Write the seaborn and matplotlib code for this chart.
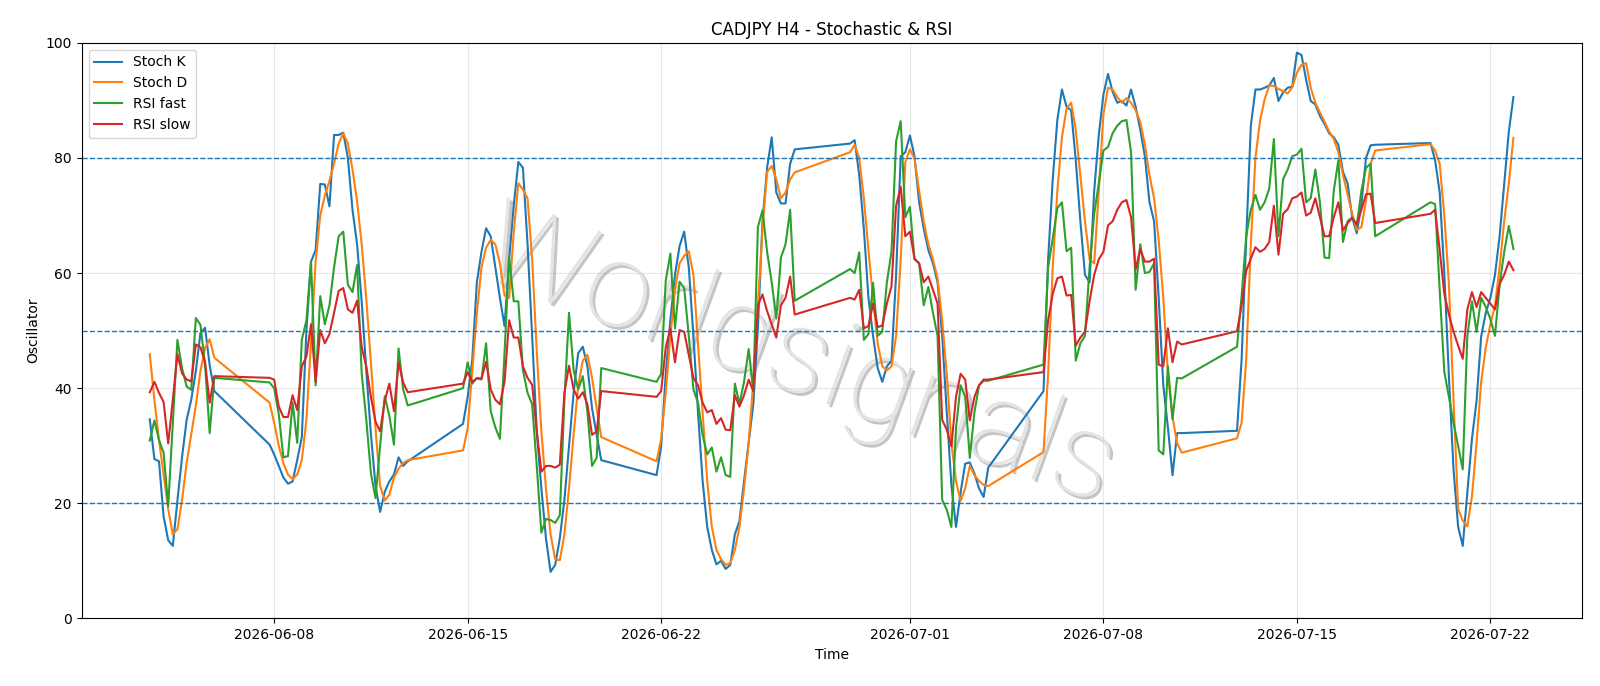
import matplotlib
matplotlib.use("Agg")
import matplotlib.pyplot as plt
import matplotlib.dates as mdates
import matplotlib.patheffects as pe
import numpy as np
import pandas as pd
import seaborn as sns

# ---- time axis: H4 trading sessions (start of each session, number of bars) ----
session_starts = ["2026-06-03 12:00", "2026-06-07 20:00", "2026-06-14 20:00", "2026-06-21 20:00",
                  "2026-06-28 20:00", "2026-07-05 20:00", "2026-07-12 20:00", "2026-07-19 20:00"]
session_bars = [15, 31, 31, 31, 31, 31, 31, 19]

stoch_k = [
    34.6, 27.7, 27.3, 17.7, 13.6, 12.6, 20.5, 28, 34.5, 38, 43, 49.6, 50.5, 44, 39.5,
    30.2, 28.5, 26.5, 24.5, 23.4, 23.8, 27.5, 31.5, 50, 62, 64, 75.5, 75.4, 71.6, 84, 84, 84.4, 80, 71, 65,
    55, 43, 32, 23, 18.5, 22, 23.8, 25, 28, 26.5, 27.3,
    33.8, 38.5, 45, 58.4, 63.7, 67.8, 66.4, 61, 55.7, 50.8, 62.4, 71.7, 79.3, 78.3, 65, 49.1, 32.5, 22.6,
    13.9, 8.1, 9.3, 13.9, 20.6, 29.9, 39.2, 46.1, 47.2, 43.8, 36.5, 31.9, 27.5,
    24.9, 29.9, 42.5, 51.8, 59.7, 64.7, 67.2, 61, 49.1, 35.8, 23.9, 15.9, 11.9, 9.4, 10, 8.6, 9.3, 14.6,
    16.9, 23.9, 30.5, 37.2, 50.4, 69, 78.3, 83.6, 74, 72.1, 72.1, 79, 81.5,
    82.5, 83.1, 77, 67.7, 55.7, 49.1, 43.5, 41.1, 43.8, 44.8, 59.7, 80.3, 81, 83.9, 80.3, 72.3, 67.7, 64,
    61.7, 58.4, 49.1, 35.8, 23.2, 15.9, 21.9, 26.9, 27.1, 25.2, 22.6, 21.1, 26.2,
    39.5, 62.4, 76.3, 86.6, 91.9, 88.9, 88.3, 79.6, 69, 59.7, 58.4, 74.3, 84, 91, 94.6, 91.5, 89.6, 89.9,
    89.1, 91.9, 88.9, 84.9, 80.3, 72.3, 69, 55.7, 40.5, 33.2, 24.9, 32.2, 32.2,
    32.6, 45, 66, 85.6, 91.9, 91.9, 92.2, 92.6, 93.9, 89.9, 91.4, 92.2, 92.4, 98.3, 97.9, 93.6, 89.9, 89.3,
    87.3, 85.9, 84.3, 83.6, 82.3, 77.6, 75.6, 69.7, 66.9, 72, 80, 82.2, 82.3,
    82.6, 79.6, 74, 60, 42, 25.9, 15.9, 12.6, 22, 31.2, 37.8, 49, 53.1, 55.7, 59.7, 66.4, 75.6, 84.6, 90.6,
]

stoch_d = [
    45.9, 38, 31, 25, 19, 14.6, 15.5, 20.5, 27, 32, 37, 43, 47, 48.5, 45.3,
    37.5, 34, 30, 27, 25, 24.2, 25, 27.5, 34.5, 48, 62, 70, 73.5, 76, 79, 82.5, 84.3, 82.5, 78, 72.5,
    65, 55.5, 44.5, 33, 23, 20.5, 21.5, 24.5, 26, 27, 27.5,
    29.2, 33, 43, 53, 61, 64.4, 65.8, 65, 61.7, 56.1, 55.7, 67, 75.6, 74.5, 73, 62.4, 46.4, 32.5,
    22.6, 14.6, 10.3, 10.1, 14.6, 22.6, 31.9, 40.5, 44.8, 45.8, 41.8, 36.5, 31.5,
    27.3, 31.2, 39.2, 49.1, 57.1, 61.7, 63, 63.8, 59.7, 47.8, 35.8, 23.9, 15.9, 11.9, 10.3, 9.3, 9.6, 11.9,
    15.9, 22.6, 30.5, 41.1, 54.4, 67.7, 77.6, 78.6, 76.3, 73, 74, 76.3, 77.5,
    81, 82.3, 80, 73, 64, 55.5, 47.8, 43.8, 43.1, 43.8, 49.1, 62.4, 79.3, 81.5, 79.9, 74.3, 69, 65,
    62.4, 59.1, 51.8, 42.5, 30.5, 23.9, 20.4, 22.6, 26.5, 24.9, 23.9, 23.2, 23,
    28.9, 42.5, 61, 74.3, 83.6, 88.6, 89.6, 84.9, 77, 69, 62.4, 61.7, 74.3, 87.6, 92.2, 91.9, 90.6, 89.6,
    90.4, 89.6, 88.3, 86.3, 82.3, 77, 73, 65.7, 55.7, 42.5, 35, 30.5, 28.8,
    31.3, 34, 45, 65, 80, 86.5, 90.2, 92.6, 92.5, 92, 91.6, 91.2, 92.3, 94.8, 96.2, 96.5, 92.2, 89.6,
    87.9, 86.3, 84.6, 83.3, 81, 77, 73.7, 70.3, 67.5, 68, 72.5, 79, 81.3,
    82.4, 81.3, 79, 70, 58, 38, 19, 17, 16, 21.2, 30.5, 41.1, 47.1, 51.1, 54.4, 61, 69, 75.6, 83.5,
]

rsi_fast = [
    30.9, 34.4, 31, 28.8, 19.5, 34, 48.4, 43.5, 40.3, 39.7, 52.2, 51, 44, 32.2, 41.8,
    41, 40, 35.5, 28, 28.2, 37.5, 30.5, 48.4, 51.8, 62, 40.5, 56, 51.1, 54.4, 61, 66.4, 67.2, 58, 56.7, 61.4,
    42.5, 34.5, 25.2, 20.9, 30, 38.6, 35.2, 30.2, 46.9, 39.8, 37,
    40, 44.5, 40.8, 41.8, 41.5, 47.8, 36, 33.2, 31.2, 46, 62.8, 55.1, 55.1, 43.1, 39.2, 37.2, 26.5, 14.9,
    17.3, 17.1, 16.6, 17.9, 38, 53.1, 43.1, 39.8, 42.1, 35.8, 26.5, 27.9, 43.5,
    41.1, 42.5, 58.7, 63.4, 50.4, 58.5, 57.4, 49.1, 39.8, 37.5, 31.9, 28.5, 29.7, 25.5, 28, 24.9, 24.6, 40.8,
    37.3, 41.1, 46.8, 39.5, 68, 70.9, 63.7, 58.4, 52.1, 62.7, 65, 71, 55.2,
    60.7, 60, 63.6, 48.4, 49.4, 58.3, 49.1, 49.8, 58.4, 63.7, 82.9, 86.4, 69.7, 71.5, 62.4, 61.7, 54.4, 57.6,
    53.1, 49.1, 20.6, 18.9, 15.9, 33, 40.5, 38.5, 27.9, 35.8, 40.5, 41.3, 41.3,
    44.1, 61, 66, 71.3, 72.3, 63.8, 64.4, 44.8, 47.8, 49.1, 61, 70.3, 75.6, 81.3, 81.9, 84.3, 85.6, 86.4,
    86.6, 81, 57.1, 65, 60, 60.2, 61.7, 29.2, 28.5, 43.8, 34.6, 41.8, 41.7,
    47.2, 56, 66.4, 71, 73.6, 71, 72.3, 74.7, 83.3, 66.4, 76.3, 78, 80.3, 80.6, 81.6, 72.3, 73, 78,
    72.3, 62.7, 62.6, 74.3, 79.6, 65.4, 69, 69.7, 68.3, 74.3, 78.3, 79, 66.4,
    72.3, 72, 57, 42.8, 38.5, 34, 30, 25.9, 49.1, 55.1, 49.8, 55.7, 54.1, 52, 49.1, 58, 63.7, 68.2, 64.2,
]

rsi_slow = [
    39.3, 41.1, 39.2, 37.6, 30.4, 38, 45.9, 42.6, 41.5, 41.2, 47.6, 47.1, 44.5, 37.5, 42.1,
    41.8, 41.5, 36.8, 35, 35, 38.8, 36.2, 43.8, 45.5, 51.1, 41.1, 50.1, 47.8, 49.4, 53.1, 56.9, 57.4, 53.7,
    53.1, 55.2, 47.1, 43.8, 38.5, 34.2, 32.5, 37.8, 40.8, 36, 44.5, 41, 39.3,
    40.8, 42.8, 41.1, 41.7, 41.7, 44.6, 39.8, 38, 37.2, 41.1, 51.8, 48.8, 48.8, 43.8, 41.8, 40.6, 32.5, 25.5,
    26.5, 26.5, 26.2, 26.7, 39.2, 43.9, 39.8, 38.2, 39.3, 37.2, 31.9, 32.5, 39.5,
    38.5, 39.5, 47.1, 50.4, 44.5, 50.1, 49.8, 45.8, 41.8, 40.5, 37.5, 35.8, 36.2, 33.8, 34.8, 32.8, 32.7, 38.8,
    36.8, 38.8, 41.5, 39.5, 54.4, 56.3, 53.4, 51.1, 48.8, 54.4, 55.7, 59.4, 52.8,
    55.7, 55.4, 57.1, 50.4, 50.8, 54.7, 50.6, 50.9, 54.7, 57.7, 71.7, 75, 66.4, 67.2, 62.5, 61.7, 58.4, 59.4,
    57.1, 54.7, 34.5, 32.8, 29.9, 38.5, 42.5, 41.5, 34.4, 38.5, 40.5, 41.5, 41.5,
    42.8, 51.8, 56.4, 59.1, 59.4, 56.1, 56.2, 47.4, 48.8, 49.8, 55.1, 59.7, 62.4, 63.7, 68.3, 69, 71, 72.3,
    72.7, 69.7, 60.7, 64.2, 62, 62, 62.5, 44.1, 43.8, 50.4, 44.5, 48.1, 47.6,
    49.9, 54.4, 60.4, 62.5, 64.5, 63.7, 64.2, 65.4, 71.7, 63.2, 70.3, 71.1, 73, 73.3, 74, 70, 70.5, 73,
    69.7, 66.4, 66.4, 69.7, 72.3, 67.4, 68.7, 69.5, 68.5, 71, 73.7, 73.8, 68.7,
    70.3, 71, 64, 56.4, 52.8, 49.8, 47.4, 45.1, 53.7, 56.7, 54.1, 56.7, 55.7, 54.7, 53.7, 58.1, 59.7, 62, 60.5,
]

series_labels = ["Stoch K", "Stoch D", "RSI fast", "RSI slow"]
levels = [20, 50, 80]

times = pd.DatetimeIndex(np.concatenate([
    pd.date_range(s, periods=n, freq="4h").values for s, n in zip(session_starts, session_bars)
]))

df = pd.DataFrame({"time": times,
                   "Stoch K": stoch_k, "Stoch D": stoch_d,
                   "RSI fast": rsi_fast, "RSI slow": rsi_slow})

fig, ax = plt.subplots(figsize=(16, 6.86), dpi=100)
fig.subplots_adjust(left=0.051, right=0.9885, top=0.9375, bottom=0.0985)

palette = ["#1f77b4", "#ff7f0e", "#2ca02c", "#d62728"]
for lab, col in zip(series_labels, palette):
    sns.lineplot(data=df, x="time", y=lab, ax=ax, color=col, label=lab, linewidth=1.5)

for lv in levels:
    ax.axhline(lv, linestyle="--", color="#1f77b4", linewidth=1.0)

ax.set_ylim(0, 100)
ax.set_title("CADJPY H4 - Stochastic & RSI", fontsize=12)
ax.set_xlabel("Time")
ax.set_ylabel("Oscillator")
ax.xaxis.set_major_locator(mdates.DayLocator(bymonthday=[1, 8, 15, 22]))
ax.xaxis.set_major_formatter(mdates.DateFormatter("%Y-%m-%d"))
ax.grid(True, color="#b0b0b0", alpha=0.3, linewidth=0.8)
ax.set_axisbelow(True)
ax.legend(loc="upper left")

ax.text(0.478, 0.45, "Worldsignals", transform=ax.transAxes, fontsize=86,
        family=["Roboto", "DejaVu Sans"], fontweight="light",
        color="#e4e4e4", rotation=-20, ha="center", va="center", rotation_mode="anchor",
        zorder=0.5,
        path_effects=[pe.withSimplePatchShadow(offset=(2, -2), shadow_rgbFace="#8c8c8c", alpha=0.5)])

fig.savefig("out.png", dpi=100)
